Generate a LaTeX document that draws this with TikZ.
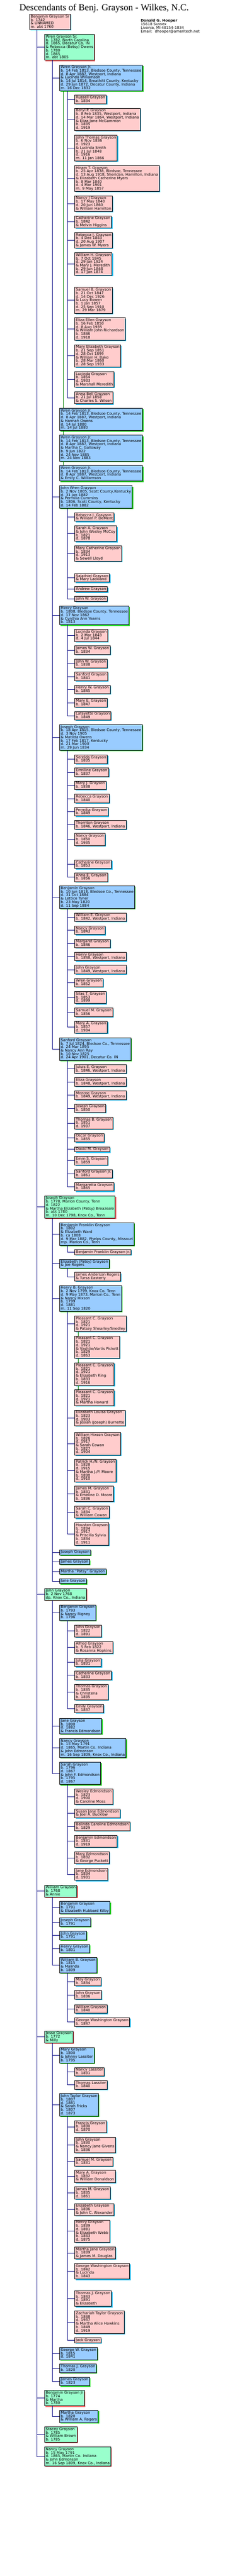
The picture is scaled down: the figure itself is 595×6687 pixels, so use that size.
\documentclass[tikz,border=0pt]{standalone}
\usepackage{fontspec}
\setmainfont{DejaVu Sans}
\newfontfamily\titlefont{Liberation Serif}
\usetikzlibrary{shadows}

\definecolor{boxpink}{HTML}{FFCCCC}
\definecolor{boxgreen}{HTML}{99FFCC}
\definecolor{boxblue}{HTML}{99CCFF}
\definecolor{shadecyan}{HTML}{22BBEE}
\definecolor{shadered}{HTML}{EE6666}
\definecolor{shadegreen}{HTML}{22CC22}
\definecolor{treeline}{HTML}{000080}
\definecolor{spouseline}{HTML}{008000}

\newcommand{\boxfont}{\fontsize{9.5pt}{9pt}\selectfont\lineskiplimit=-9pt\lineskip=0pt}
\newcommand{\gstrut}{\rule[-2pt]{0pt}{9pt}}
\newcommand{\lvlzero}{76pt}
\newcommand{\lvlone}{115pt}
\newcommand{\lvltwo}{154pt}
\newcommand{\lvlthree}{193pt}

\tikzset{
	person/.style={draw=black, line width=0.9pt, anchor=north west, align=left,
		inner xsep=3pt, inner ysep=2pt, font=\boxfont,
		execute at begin node=\gstrut, execute at end node=\gstrut},
	pinkbox/.style={person, fill=boxpink,
		drop shadow={shadow xshift=2.5pt, shadow yshift=-2.5pt, fill=shadecyan, opacity=1}},
	greenbox/.style={person, fill=boxgreen,
		drop shadow={shadow xshift=2.5pt, shadow yshift=-2.5pt, fill=shadered, opacity=1}},
	bluebox/.style={person, fill=boxblue,
		drop shadow={shadow xshift=2.5pt, shadow yshift=-2.5pt, fill=shadegreen, opacity=1}},
	branch/.style={draw=treeline, line width=0.9pt},
	spouse/.style={draw=spouseline, line width=0.9pt}
}

\begin{document}
\begin{tikzpicture}
	\fill[white] (0,0) rectangle (595pt,-6687pt);
	\useasboundingbox (0,0) rectangle (595pt,-6687pt);

	\node[anchor=base west, inner sep=0pt, font=\titlefont\fontsize{24pt}{28pt}\selectfont] (title) at (50pt,-28pt) {Descendants of Benj. Grayson - Wilkes, N.C.};
	\node[anchor=north west, align=left, inner sep=0pt, font=\boxfont,
		execute at begin node=\gstrut, execute at end node=\gstrut] (author) at (364pt,-50pt)
		{\textbf{Donald G. Hooper}\\15618 Sussex\\Livonia, MI 48154-1834\\Email:~ dhooper@ameritech.net};

	\node[pinkbox] (benjsr) at (\lvlzero,-36.4pt) {Benjamin Grayson Sr\\b. 1742\\\& UNNAMED\\m. abt 1760};

	\node[greenbox] (wrensr) at (\lvlone,-88.6pt) {Wren Grayson Sr.\\b. 1782, North Carolina\\d. 1865, Decatur Co. IN\\\& Rebecca (Betsy) Owens\\b. 1780\\d. 1865\\m. abt 1805};

	\node[bluebox] (wrenjra) at (\lvltwo,-167.9pt) {Wren Grayson Jr.\\b. 14 Feb 1813, Bledsoe County, Tennessee\\d. 8 Apr 1887, Westport, Indiana\\\& Lucinda Williamson\\b. 14 Jul 1814, Breathitt County, Kentucky\\d. 29 Jun 1872, Decatur County, Indiana\\m. 16 Dec 1832};
	\node[pinkbox] (russell) at (\lvlthree,-246.4pt) {Russell Grayson\\b. 1834};
	\node[pinkbox] (beryl) at (\lvlthree,-280.4pt) {Beryl P. Grayson\\b. 8 Feb 1835, Westport, Indiana\\d. 14 Mar 1864, Westport, Indiana\\\& Eliza Jane McGammon\\b. 1835\\d. 1919};
	\node[pinkbox] (johnthomas) at (\lvlthree,-350.4pt) {John Thomas Grayson\\b. 6 Nov 1836\\d. 1923\\\& Lucinda Smith\\b. 21 Jul 1848\\d. 1916\\m. 11 Jan 1866};
	\node[pinkbox] (hiram) at (\lvlthree,-429.3pt) {Hiram T. Grayson\\b. 25 Apr 1838, Bledsoe, Tennessee\\d. 13 Aug 1918, Sheridan, Hamilton, Indiana\\\& Elizabeth Catherine Myers\\b. 8 Mar 1840\\d. 4 Mar 1901\\m. 9 May 1857};
	\node[pinkbox] (nancyj) at (\lvlthree,-507.9pt) {Nancy J Grayson\\b. 17 May 1840\\d. 20 Jun 1860\\\& William Hamilton};
	\node[pinkbox] (catherine) at (\lvlthree,-560pt) {Catherine Grayson\\b. 1842\\\& Melvin Higgins};
	\node[pinkbox] (rebeccaj) at (\lvlthree,-603.2pt) {Rebecca J. Grayson\\b. 4 Dec 1843\\d. 20 Aug 1907\\\& James W. Myers};
	\node[pinkbox] (williamh) at (\lvlthree,-655.4pt) {William H. Grayson\\b. 7 Oct 1845\\d. 29 Jan 1924\\\& Mary J. Meredith\\b. 29 Jun 1848\\d. 17 Jan 1874};
	\node[pinkbox] (samuelb) at (\lvlthree,-745.4pt) {Samuel B. Grayson\\b. 21 Oct 1847\\d. 14 Dec 1926\\\& Lucy Bowen\\b. 1 Jan 1857\\d. 25 Sep 1910\\m. 29 Mar 1879};
	\node[pinkbox] (elizaellen) at (\lvlthree,-824.3pt) {Eliza Ellen Grayson\\b. 16 Feb 1850\\d. 8 Aug 1935\\\& William John Richardson\\b. 1846\\d. 1918};
	\node[pinkbox] (maryeliz) at (\lvlthree,-894.3pt) {Mary Elizabeth Grayson\\b. 21 Sep 1851\\d. 28 Oct 1899\\\& William H. Bake\\b. 28 Mar 1860\\d. 28 Sep 1933};
	\node[pinkbox] (lucinda) at (\lvlthree,-964.3pt) {Lucinda Grayson\\b. 1854\\d. 1933\\\& Marshall Meredith};
	\node[pinkbox] (annabell) at (\lvlthree,-1016.4pt) {Anna Bell Grayson\\b. 21 Jul 1858\\\& Charles S. Wilson};
	\node[bluebox] (wrenjrb) at (\lvltwo,-1059.3pt) {Wren Grayson Jr.\\b. 14 Feb 1813, Bledsoe County, Tennessee\\d. 8 Apr 1887, Westport, Indiana\\\& Hannah Owens\\d. 14 Jul 1880\\m. 14 Jul 1880};
	\node[bluebox] (wrenjrc) at (\lvltwo,-1129.3pt) {Wren Grayson Jr.\\b. 14 Feb 1813, Bledsoe County, Tennessee\\d. 8 Apr 1887, Westport, Indiana\\\& Martha C. Galloway\\b. 9 Jun 1822\\d. 24 Nov 1885\\m. 24 Nov 1883};
	\node[bluebox] (wrenjrd) at (\lvltwo,-1208.2pt) {Wren Grayson Jr.\\b. 14 Feb 1813, Bledsoe County, Tennessee\\d. 8 Apr 1887, Westport, Indiana\\\& Emily C. Williamson};

	\node[bluebox] (johnwren) at (\lvltwo,-1260.4pt) {John Wren Grayson\\b. 2 Nov 1805, Scott County,Kentucky\\d. 31 Jan 1882\\\& Permilia Cummins\\b. 1806, Scott County, Kentucky\\d. 14 Feb 1882};
	\node[pinkbox] (rebeccadm) at (\lvlthree,-1330.4pt) {Rebecca J. Grayson\\\& William P. DeMent};
	\node[pinkbox] (saraha) at (\lvlthree,-1364.6pt) {Sarah A. Grayson\\\& John Wesley McCoy\\b. 1821\\d. 1878};
	\node[pinkbox] (marycath) at (\lvlthree,-1416.4pt) {Mary Catherine Grayson\\b. 1834\\d. 1913\\\& Sewell Lloyd};
	\node[pinkbox] (salathiel) at (\lvlthree,-1488.2pt) {Salathiel Grayson\\\& Mary Lackland};
	\node[pinkbox] (andrew) at (\lvlthree,-1522.5pt) {Andrew Grayson};
	\node[pinkbox] (johnw) at (\lvlthree,-1547.5pt) {John W. Grayson};

	\node[bluebox] (henry) at (\lvltwo,-1572.5pt) {Henry Grayson\\b. 1808, Bledsoe County, Tennessee\\d. 17 Nov 1862\\\& Cynthia Ann Yearns\\b. 1813};
	\node[pinkbox] (lucindah) at (\lvlthree,-1633.2pt) {Lucinda Grayson\\b. 2 Mar 1843\\d. 4 Jul 1844};
	\node[pinkbox] (jamesw) at (\lvlthree,-1676.4pt) {James W. Grayson\\b. 1834};
	\node[pinkbox] (johnwh) at (\lvlthree,-1710.4pt) {John W. Grayson\\b. 1838};
	\node[pinkbox] (sanfordh) at (\lvlthree,-1744.3pt) {Sanford Grayson\\b. 1841};
	\node[pinkbox] (henryw) at (\lvlthree,-1778.2pt) {Henry W. Grayson\\b. 1845};
	\node[pinkbox] (marye) at (\lvlthree,-1812.5pt) {Mary E. Grayson\\b. 1847};
	\node[pinkbox] (lafayette) at (\lvlthree,-1846.4pt) {Lafayette Grayson\\b. 1849};

	\node[bluebox] (joseph) at (\lvltwo,-1880.4pt) {Joseph Grayson\\b. 18 Apr 1815, Bledsoe County, Tennessee\\d. 3 Nov 1905\\\& Matilda Owens\\b. 17 Feb 1817, Kentucky\\d. 21 Mar 1900\\m. 29 Jun 1834};
	\node[pinkbox] (serelda) at (\lvlthree,-1959.3pt) {Serelda Grayson\\b. 1835};
	\node[pinkbox] (ermiline) at (\lvlthree,-1993.2pt) {Ermiline Grayson\\b. 1837};
	\node[pinkbox] (maryj) at (\lvlthree,-2027.1pt) {Mary J. Grayson\\b. 1838};
	\node[pinkbox] (rebecca) at (\lvlthree,-2061.4pt) {Rebecca Grayson\\b. 1840};
	\node[pinkbox] (permilia) at (\lvlthree,-2095.4pt) {Permilia Grayson\\b. 1849};
	\node[pinkbox] (thornton) at (\lvlthree,-2129.3pt) {Thornton Grayson\\b. 1846, Westport, Indiana};
	\node[pinkbox] (nancyjo) at (\lvlthree,-2163.2pt) {Nancy Grayson\\b. 1850\\d. 1935};
	\node[pinkbox] (catherinejo) at (\lvlthree,-2231.8pt) {Catherine Grayson\\b. 1853};
	\node[pinkbox] (annae) at (\lvlthree,-2265.7pt) {Anna E. Grayson\\b. 1856};

	\node[bluebox] (benjamin) at (\lvltwo,-2299.3pt) {Benjamin Grayson\\b. 10 Jun 1818, Bledsoe Co., Tennessee\\d. 31 Oct 1884\\\& Lettice Tyner\\b. 23 May 1820\\d. 11 Sep 1884};
	\node[pinkbox] (williame) at (\lvlthree,-2369.3pt) {William E. Grayson\\b. 1842, Westport, Indiana};
	\node[pinkbox] (nancyb) at (\lvlthree,-2403.2pt) {Nancy Grayson\\b. 1843};
	\node[pinkbox] (margaret) at (\lvlthree,-2437.5pt) {Margaret Grayson\\b. 1846};
	\node[pinkbox] (henrybg) at (\lvlthree,-2471.4pt) {Henry Grayson\\b. 1848, Westport, Indiana};
	\node[pinkbox] (johnb) at (\lvlthree,-2505.4pt) {John Grayson\\b. 1849, Westport, Indiana};
	\node[pinkbox] (wren) at (\lvlthree,-2539.3pt) {Wren Grayson\\b. 1852};
	\node[pinkbox] (silas) at (\lvlthree,-2573.2pt) {Silas T. Grayson\\b. 1853\\d. 1899};
	\node[pinkbox] (samuelm) at (\lvlthree,-2616.4pt) {Samuel M. Grayson\\b. 1856};
	\node[pinkbox] (marya) at (\lvlthree,-2650.4pt) {Mary A. Grayson\\b. 1857\\d. 1934};

	\node[bluebox] (sanford) at (\lvltwo,-2693.6pt) {Sanford Grayson\\b. 7 Jul 1824, Bledsoe Co., Tennessee\\d. 24 Mar 1895\\\& Nancy Ann Ray\\b. 10 Nov 1825\\d. 24 Apr 1901, Decatur Co. IN};
	\node[pinkbox] (juluis) at (\lvlthree,-2763.2pt) {Juluis E. Grayson\\b. 1846, Westport, Indiana};
	\node[pinkbox] (eliza) at (\lvlthree,-2797.1pt) {Eliza Grayson\\b. 1848, Westport, Indiana};
	\node[pinkbox] (monroe) at (\lvlthree,-2831.4pt) {Monroe Grayson\\b. 1849, Westport, Indiana};
	\node[pinkbox] (josephs) at (\lvlthree,-2865.4pt) {Joseph Grayson\\b. 1850};
	\node[pinkbox] (thomasb) at (\lvlthree,-2899.3pt) {Thomas B. Grayson\\b. 1851\\d. 1937};
	\node[pinkbox] (oscar) at (\lvlthree,-2942.1pt) {Oscar Grayson\\b. 1855};
	\node[pinkbox] (davidm) at (\lvlthree,-2976.4pt) {David M. Grayson};
	\node[pinkbox] (emms) at (\lvlthree,-3001.4pt) {Emm S. Grayson\\b. 1859};
	\node[pinkbox] (sanfordjr) at (\lvlthree,-3035.4pt) {Sanford Grayson Jr.\\b. 1861};
	\node[pinkbox] (margaretta) at (\lvlthree,-3069.3pt) {Margaretta Grayson\\b. 1865};

	\node[greenbox] (josephsr) at (\lvlone,-3103.6pt) {Joseph Grayson\\b. 1778, Marion County, Tenn\\d. 1822\\\& Martha Elizabeth (Patsy) Breazeale\\b. abt 1780\\m. 10 Dec 1798, Knox Co., Tenn};
	\node[bluebox] (benfrank) at (\lvltwo,-3173.6pt) {Benjamin Franklin Grayson\\b. 1802\\\& Elizabeth Ward\\b. ca 1808\\d. 9 Mar 1882, Phelps County, Missouri\\mp. Marion Co., Tenn};
	\node[pinkbox] (benfrankjr) at (\lvlthree,-3243.2pt) {Benjamin Franklin Grayson Jr.};
	\node[bluebox] (elizpatsy) at (\lvltwo,-3268.6pt) {Elizabeth (Patsy) Grayson\\\& Joe Rogers};
	\node[pinkbox] (jamesrogers) at (\lvlthree,-3302.5pt) {James Anderson Rogers\\\& Tursa Easterly};
	\node[bluebox] (henryhix) at (\lvltwo,-3336.5pt) {Henry B. Grayson\\b. 2 Nov 1799, Knox Co. Tenn\\d. 9 May 1873, Marion Co., Tenn\\\& Nancy Hixson\\b. 1799\\d. 1881\\m. 11 Sep 1820};
	\node[pinkbox] (pleasanta) at (\lvlthree,-3415.8pt) {Pleasant C. Grayson\\b. 1821\\d. 1921\\\& Patsey Shearley/Snedley};
	\node[pinkbox] (pleasantb) at (\lvlthree,-3467.5pt) {Pleasant C. Grayson\\b. 1821\\d. 1921\\\& Vashtie/Vartis Pickett\\b. 1829\\d. 1863};
	\node[pinkbox] (pleasantc) at (\lvlthree,-3537.6pt) {Pleasant C. Grayson\\b. 1821\\d. 1921\\\& Elizabeth King\\b. 1833\\d. 1916};
	\node[pinkbox] (pleasantd) at (\lvlthree,-3607.5pt) {Pleasant C. Grayson\\b. 1821\\d. 1921\\\& Martha Howard};
	\node[pinkbox] (elizlouisa) at (\lvlthree,-3659.8pt) {Elizabeth Louisa Grayson\\b. 1823\\d. 1903\\\& Josiah (Joseph) Burnette};
	\node[pinkbox] (williamhix) at (\lvlthree,-3718pt) {William Hixson Grayson\\b. 1826\\d. 1917\\\& Sarah Cowan\\b. 1827\\d. 1904};
	\node[pinkbox] (patrick) at (\lvlthree,-3787.5pt) {Patrick H./N. Grayson\\b. 1828\\d. 1915\\\& Martha J./P. Moore\\b. 1830\\d. 1910};
	\node[pinkbox] (jamesm) at (\lvlthree,-3857.3pt) {James M. Grayson\\b. 1831\\\& Emeline D. Moore\\b. 1836};
	\node[pinkbox] (sarahc) at (\lvlthree,-3909.3pt) {Sarah C. Grayson\\b. 1834\\\& William Cowan};
	\node[pinkbox] (houston) at (\lvlthree,-3952.5pt) {Houston Grayson\\b. 1834\\d. 1917\\\& Priscilla Sylvia\\b. 1834\\d. 1911};
	\node[bluebox] (josephj) at (\lvltwo,-4022.4pt) {Joseph Grayson};
	\node[bluebox] (jamesj) at (\lvltwo,-4047.5pt) {James Grayson};
	\node[bluebox] (marthapatsy) at (\lvltwo,-4072.5pt) {Martha “Patsy” Grayson};
	\node[bluebox] (jane) at (\lvltwo,-4097.3pt) {Jane Grayson};

	\node[greenbox] (johnsr) at (\lvlone,-4122.7pt) {John Grayson\\b. 2 Nov 1768\\dp. Knox Co., Indiana};
	\node[bluebox] (benjaminj) at (\lvltwo,-4165.3pt) {Benjamin Grayson\\b. 1793\\\& Nancy Rigney\\b. 1796};
	\node[pinkbox] (johnbj) at (\lvlthree,-4217.6pt) {John Grayson\\b. 1822\\d. 1891};
	\node[pinkbox] (alfred) at (\lvlthree,-4260.5pt) {Alfred Grayson\\b. 5 Feb 1822\\\& Rosanna Hopkins};
	\node[pinkbox] (julia) at (\lvlthree,-4303.5pt) {Julia Grayson\\b. 1831};
	\node[pinkbox] (catherinebj) at (\lvlthree,-4337.3pt) {Catherine Grayson\\b. 1833};
	\node[pinkbox] (thomas) at (\lvlthree,-4371.5pt) {Thomas Grayson\\b. 1835\\\& Christena\\b. 1835};
	\node[pinkbox] (emily) at (\lvlthree,-4423.5pt) {Emily Grayson\\b. 1837};
	\node[bluebox] (janej) at (\lvltwo,-4460.5pt) {Jane Grayson\\b. 1800\\d. 1882\\\& Francis Edmondson};
	\node[bluebox] (nancyjj) at (\lvltwo,-4512.5pt) {Nancy Grayson\\b. 15 May 1791\\d. 1865, Martin Co. Indiana\\\& John Edmonson\\m. 16 Sep 1809, Knox Co., Indiana};
	\node[bluebox] (sarahj) at (\lvltwo,-4573.6pt) {Sarah Grayson\\b. 1796\\d. 1867\\\& John F. Edmondson\\b. 1795\\d. 1867};
	\node[pinkbox] (wesley) at (\lvlthree,-4643.5pt) {Wesley Edmondson\\b. 1823\\d. 1900\\\& Caroline Moss};
	\node[pinkbox] (susanjane) at (\lvlthree,-4695.5pt) {Susan Jane Edmondson\\\& Joel A. Bucklow};
	\node[pinkbox] (belinda) at (\lvlthree,-4729.3pt) {Belinda Caroline Edmondson\\b. 1829};
	\node[pinkbox] (benjamine) at (\lvlthree,-4763.5pt) {Benjamin Edmondson\\b. 1831\\d. 1919};
	\node[pinkbox] (marye2) at (\lvlthree,-4806.4pt) {Mary Edmondson\\b. 1832\\\& George Puckett};
	\node[pinkbox] (janee) at (\lvlthree,-4849.3pt) {Jane Edmondson\\b. 1834\\d. 1931};

	\node[greenbox] (williamsr) at (\lvlone,-4892.9pt) {William Grayson\\b. 1768\\\& Annie};
	\node[bluebox] (benjaminw) at (\lvltwo,-4935.5pt) {Benjamin Grayson\\b. 1791\\\& Elizabeth Hubbard Kilby};
	\node[bluebox] (josephw) at (\lvltwo,-4978.4pt) {Joseph Grayson\\b. 1791};
	\node[bluebox] (johnww) at (\lvltwo,-5012.5pt) {John Grayson\\b. 1791};
	\node[bluebox] (henryww) at (\lvltwo,-5046.7pt) {Henry Grayson\\b. 1801};
	\node[bluebox] (williamb) at (\lvltwo,-5080.5pt) {William B. Grayson\\b. 1815\\\& Malinda\\b. 1809};
	\node[pinkbox] (may) at (\lvlthree,-5132.5pt) {May Grayson\\b. 1834};
	\node[pinkbox] (johnwb) at (\lvlthree,-5166.7pt) {John Grayson\\b. 1836};
	\node[pinkbox] (williamwb) at (\lvlthree,-5203.5pt) {William Grayson\\b. 1840};
	\node[pinkbox] (georgewb) at (\lvlthree,-5237.3pt) {George Washington Grayson\\b. 1847};

	\node[greenbox] (jesse) at (\lvlone,-5271.5pt) {Jesse Grayson\\b. 1772\\\& Milly};
	\node[bluebox] (maryjes) at (\lvltwo,-5314.4pt) {Mary Grayson\\b. 1800\\\& Johnny Lassiter\\b. 1795};
	\node[pinkbox] (nancylas) at (\lvlthree,-5366.4pt) {Nancy Lassiter\\b. 1831};
	\node[pinkbox] (thomaslas) at (\lvlthree,-5400.2pt) {Thomas Lassiter\\b. 1840};
	\node[bluebox] (johntaylor) at (\lvltwo,-5434.4pt) {John Taylor Grayson\\b. 1807\\d. 1881\\\& Sarah Fricks\\b. 1807\\d. 1873};
	\node[pinkbox] (francis) at (\lvlthree,-5504.5pt) {Francis Grayson\\b. 1830\\d. 1870};
	\node[pinkbox] (johnjt) at (\lvlthree,-5547.5pt) {John Grayson\\b. 1830\\\& Nancy Jane Givens\\b. 1836};
	\node[pinkbox] (samueljt) at (\lvlthree,-5599.5pt) {Samuel M. Grayson\\b. 1831};
	\node[pinkbox] (maryajt) at (\lvlthree,-5633.6pt) {Mary A. Grayson\\b. 1832\\\& William Donaldson};
	\node[pinkbox] (jamesmjt) at (\lvlthree,-5676.5pt) {James M. Grayson\\b. 1835\\d. 1861};
	\node[pinkbox] (elizjt) at (\lvlthree,-5719.5pt) {Elizabeth Grayson\\b. 1836\\\& John C. Alexander};
	\node[pinkbox] (henryjt) at (\lvlthree,-5762.4pt) {Henry Grayson\\b. 1839\\d. 1881\\\& Elizabeth Webb\\b. 1843\\d. 1875};
	\node[pinkbox] (marthajane) at (\lvlthree,-5832.2pt) {Martha Jane Grayson\\b. 1839\\\& James M. Douglas};
	\node[pinkbox] (georgejt) at (\lvlthree,-5875.5pt) {George Washington Grayson\\b. 1842\\\& Lucinda\\b. 1843};
	\node[pinkbox] (thomasjt) at (\lvlthree,-5946.4pt) {Thomas J. Grayson\\b. 1843\\d. 1891\\\& Elizabeth};
	\node[pinkbox] (zachariah) at (\lvlthree,-5998.4pt) {Zachariah Taylor Grayson\\b. 1848\\d. 1937\\\& Martha Alice Hawkins\\b. 1849\\d. 1919};
	\node[pinkbox] (jack) at (\lvlthree,-6068.2pt) {Jack Grayson};
	\node[bluebox] (georgew) at (\lvltwo,-6093.6pt) {George W. Grayson\\b. 1815\\d. 1841};
	\node[bluebox] (thomasjes) at (\lvltwo,-6136.4pt) {Thomas J. Grayson\\b. 1820};
	\node[bluebox] (jamesjes) at (\lvltwo,-6170.5pt) {James Grayson\\b. 1823};

	\node[greenbox] (benjr) at (\lvlone,-6204.6pt) {Benjamin Grayson Jr\\b. 1774\\\& Martha\\b. 1780};
	\node[bluebox] (martha) at (\lvltwo,-6256.5pt) {Martha Grayson\\b. 1820\\\& William A. Rogers};
	\node[greenbox] (stacey) at (\lvlone,-6299.4pt) {Stacey Grayson\\b. 1785\\\& William Brown\\b. 1785};
	\node[greenbox] (nancysr) at (\lvlone,-6351.7pt) {Nancy Grayson\\b. 15 May 1791\\d. 1865, Martin Co. Indiana\\\& John Edmonson\\m. 16 Sep 1809, Knox Co., Indiana};

	\foreach \kid in {wrensr, josephsr, johnsr, williamsr, jesse, benjr, stacey, nancysr}
		\draw[branch] ([xshift=20pt]benjsr.south west) |- (\kid.west);
	\foreach \kid in {wrenjra, johnwren, henry, joseph, benjamin, sanford}
		\draw[branch] ([xshift=20pt]wrensr.south west) |- (\kid.west);
	\foreach \kid in {russell, beryl, johnthomas, hiram, nancyj, catherine, rebeccaj, williamh, samuelb, elizaellen, maryeliz, lucinda, annabell}
		\draw[branch] ([xshift=20pt]wrenjra.south west) |- (\kid.west);
	\foreach \kid in {rebeccadm, saraha, marycath, salathiel, andrew, johnw}
		\draw[branch] ([xshift=20pt]johnwren.south west) |- (\kid.west);
	\foreach \kid in {lucindah, jamesw, johnwh, sanfordh, henryw, marye, lafayette}
		\draw[branch] ([xshift=20pt]henry.south west) |- (\kid.west);
	\foreach \kid in {serelda, ermiline, maryj, rebecca, permilia, thornton, nancyjo, catherinejo, annae}
		\draw[branch] ([xshift=20pt]joseph.south west) |- (\kid.west);
	\foreach \kid in {williame, nancyb, margaret, henrybg, johnb, wren, silas, samuelm, marya}
		\draw[branch] ([xshift=20pt]benjamin.south west) |- (\kid.west);
	\foreach \kid in {juluis, eliza, monroe, josephs, thomasb, oscar, davidm, emms, sanfordjr, margaretta}
		\draw[branch] ([xshift=20pt]sanford.south west) |- (\kid.west);
	\foreach \kid in {benfrank, elizpatsy, henryhix, josephj, jamesj, marthapatsy, jane}
		\draw[branch] ([xshift=20pt]josephsr.south west) |- (\kid.west);
	\draw[branch] ([xshift=20pt]benfrank.south west) |- (benfrankjr.west);
	\draw[branch] ([xshift=20pt]elizpatsy.south west) |- (jamesrogers.west);
	\foreach \kid in {pleasanta, elizlouisa, williamhix, patrick, jamesm, sarahc, houston}
		\draw[branch] ([xshift=20pt]henryhix.south west) |- (\kid.west);
	\foreach \kid in {benjaminj, janej, nancyjj, sarahj}
		\draw[branch] ([xshift=20pt]johnsr.south west) |- (\kid.west);
	\foreach \kid in {johnbj, alfred, julia, catherinebj, thomas, emily}
		\draw[branch] ([xshift=20pt]benjaminj.south west) |- (\kid.west);
	\foreach \kid in {wesley, susanjane, belinda, benjamine, marye2, janee}
		\draw[branch] ([xshift=20pt]sarahj.south west) |- (\kid.west);
	\foreach \kid in {benjaminw, josephw, johnww, henryww, williamb}
		\draw[branch] ([xshift=20pt]williamsr.south west) |- (\kid.west);
	\foreach \kid in {may, johnwb, williamwb, georgewb}
		\draw[branch] ([xshift=20pt]williamb.south west) |- (\kid.west);
	\foreach \kid in {maryjes, johntaylor, georgew, thomasjes, jamesjes}
		\draw[branch] ([xshift=20pt]jesse.south west) |- (\kid.west);
	\foreach \kid in {nancylas, thomaslas}
		\draw[branch] ([xshift=20pt]maryjes.south west) |- (\kid.west);
	\foreach \kid in {francis, johnjt, samueljt, maryajt, jamesmjt, elizjt, henryjt, marthajane, georgejt, thomasjt, zachariah, jack}
		\draw[branch] ([xshift=20pt]johntaylor.south west) |- (\kid.west);
	\draw[branch] ([xshift=20pt]benjr.south west) |- (martha.west);

	\foreach \a/\b in {wrenjra/wrenjrb, wrenjrb/wrenjrc, wrenjrc/wrenjrd, pleasanta/pleasantb, pleasantb/pleasantc, pleasantc/pleasantd}
		\draw[spouse] ([xshift=10pt]\a.south west) -- ([xshift=10pt]\b.north west);
\end{tikzpicture}
\end{document}
